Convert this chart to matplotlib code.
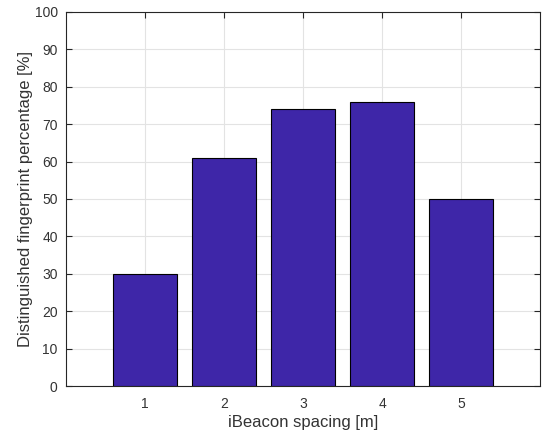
import numpy as np
import matplotlib
matplotlib.use('Agg')
import matplotlib.pyplot as plt

spacing = [1, 2, 3, 4, 5]
percent = [30, 61, 74, 76, 50]
yticks = np.arange(0, 101, 10)

plt.rcParams['font.family'] = ['Liberation Sans', 'DejaVu Sans']
plt.rcParams['font.size'] = 10

fig = plt.figure(figsize=(5.5, 4.38), dpi=100)
ax = fig.add_axes([0.12, 0.1187, 0.862, 0.854])

ax.bar(spacing, percent, width=0.8, color='#3e26a8', edgecolor='black', linewidth=0.8, zorder=3)

ax.set_xlim(0, 6)
ax.set_ylim(0, 100)
ax.set_xticks(spacing)
ax.set_yticks(yticks)
ax.grid(True, color='#e3e3e3', linewidth=0.8, zorder=0)
ax.set_axisbelow(True)
ax.tick_params(direction='in', top=True, right=True, colors='#262626', labelcolor='#333333', length=4)
ax.tick_params(axis='x', pad=8)
ax.tick_params(axis='y', pad=6)
for s in ax.spines.values():
    s.set_color('#262626')
    s.set_linewidth(0.8)

ax.set_xlabel('iBeacon spacing [m]', color='#333333', fontsize=12, labelpad=3)
ax.set_ylabel('Distinguished fingerprint percentage [%]', color='#333333', fontsize=12, labelpad=1)

fig.savefig('out.png', dpi=100)
